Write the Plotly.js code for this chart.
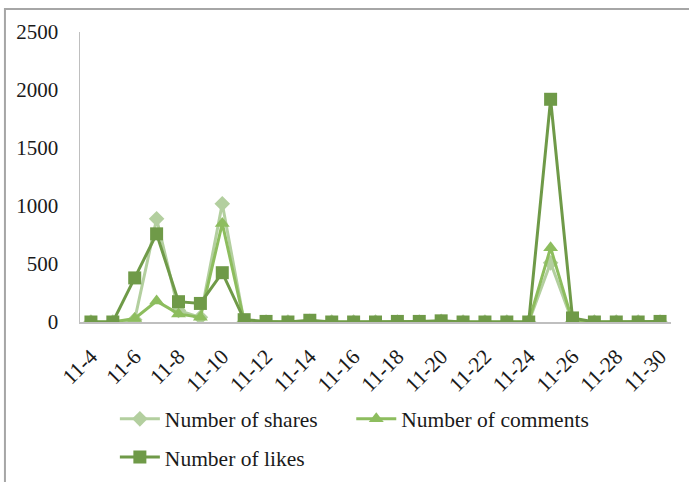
<!DOCTYPE html>
<html>
<head>
<meta charset="utf-8">
<script src="https://cdn.plot.ly/plotly-3.0.1.min.js"></script>
<style>
  html, body { margin: 0; padding: 0; background: #fff; }
  #chart { width: 689px; height: 482px; }
</style>
</head>
<body>
<div id="chart"></div>
<script>
// Daily engagement, November 4 – 30
const days = ['11-4','11-5','11-6','11-7','11-8','11-9','11-10','11-11','11-12','11-13',
              '11-14','11-15','11-16','11-17','11-18','11-19','11-20','11-21','11-22','11-23',
              '11-24','11-25','11-26','11-27','11-28','11-29','11-30'];

const shares   = [0, 0, 20, 890, 100, 40, 1020, 0, 0, 0,
                  5, 0, 0, 0, 0, 0, 5, 0, 0, 0,
                  0, 510, 0, 0, 0, 0, 0];
const comments = [0, 0, 30, 180, 70, 40, 850, 5, 0, 0,
                  5, 0, 0, 0, 0, 0, 5, 0, 0, 0,
                  0, 640, 5, 0, 0, 0, 0];
const likes    = [0, 0, 380, 760, 175, 160, 425, 20, 5, 0,
                  15, 0, 0, 0, 5, 5, 10, 0, 0, 0,
                  0, 1920, 35, 0, 0, 0, 5];

const yTicks = [0, 500, 1000, 1500, 2000, 2500];

const serif = 'Liberation Serif, Times New Roman, serif';

const traces = [
  {
    x: days, y: shares, name: 'Number of shares', type: 'scatter', mode: 'lines+markers',
    line: { color: '#b3cf9f', width: 3 },
    marker: { symbol: 'diamond', size: 12, color: '#b3cf9f' },
    legend: 'legend'
  },
  {
    x: days, y: comments, name: 'Number of comments', type: 'scatter', mode: 'lines+markers',
    line: { color: '#8dbd5e', width: 3 },
    marker: { symbol: 'triangle-up', size: 13, color: '#8dbd5e' },
    legend: 'legend2'
  },
  {
    x: days, y: likes, name: 'Number of likes', type: 'scatter', mode: 'lines+markers',
    line: { color: '#6f9a48', width: 3 },
    marker: { symbol: 'square', size: 13, color: '#6f9a48' },
    legend: 'legend3'
  }
];

const legendBase = {
  orientation: 'h', xanchor: 'left', yanchor: 'middle',
  font: { family: serif, size: 21.5, color: '#1a1a1a' },
  bgcolor: 'rgba(0,0,0,0)', itemwidth: 40, tracegroupgap: 0
};

const layout = {
  width: 689, height: 482,
  margin: { l: 80, r: 18, t: 32, b: 160, autoexpand: false },
  paper_bgcolor: '#fff', plot_bgcolor: '#fff',
  showlegend: true,
  xaxis: {
    type: 'category', range: [-0.5, days.length - 0.5],
    tickmode: 'linear', tick0: 0, dtick: 2,
    tickangle: -45, ticks: '', ticklabelstandoff: 12,
    showline: true, linecolor: '#bfbfbf', linewidth: 1.5,
    showgrid: false, zeroline: false, automargin: false,
    tickfont: { family: serif, size: 21.5, color: '#1a1a1a' }
  },
  yaxis: {
    range: [0, 2500], tickvals: yTicks, ticktext: yTicks.map(String),
    ticks: '', ticklabelstandoff: 16,
    showline: true, linecolor: '#bfbfbf', linewidth: 1.5,
    showgrid: false, zeroline: false, automargin: false,
    tickfont: { family: serif, size: 21, color: '#1a1a1a' }
  },
  legend:  Object.assign({}, legendBase, { x: 0.059, y: -0.334 }),
  legend2: Object.assign({}, legendBase, { x: 0.459, y: -0.334 }),
  legend3: Object.assign({}, legendBase, { x: 0.059, y: -0.466 }),
  shapes: [
    {
      type: 'rect', xref: 'paper', yref: 'paper',
      x0: -0.127, x1: 1.06, y0: -0.6, y1: 1.079,
      line: { color: '#a6a6a6', width: 2 }, fillcolor: 'rgba(0,0,0,0)', layer: 'below'
    }
  ]
};

Plotly.newPlot('chart', traces, layout, { displayModeBar: false, staticPlot: true });
</script>
</body>
</html>
